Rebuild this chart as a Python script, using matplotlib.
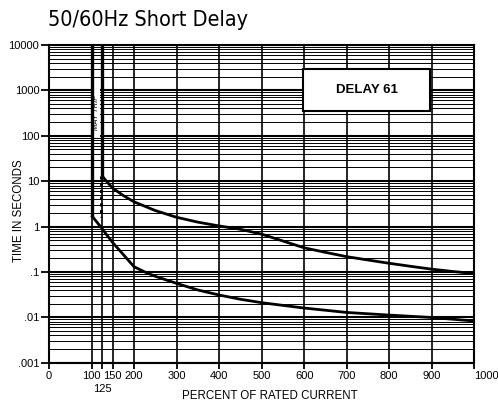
import numpy as np
import matplotlib
matplotlib.use("Agg")
import matplotlib.pyplot as plt
from matplotlib.ticker import LogLocator, NullFormatter, FixedLocator
from matplotlib.patches import Rectangle

# trip curve data (percent of rated current vs. seconds)
upper_x = [125, 137, 150, 175, 200, 250, 300, 350, 400, 450, 500, 550, 600, 650, 700,
           750, 800, 850, 900, 950, 1000]
upper_t = [13.0, 9.5, 7.0, 4.8, 3.5, 2.25, 1.6, 1.25, 1.03, 0.87, 0.68, 0.48, 0.34, 0.27,
           0.217, 0.183, 0.155, 0.133, 0.115, 0.102, 0.092]
lower_x = [100, 125, 137, 150, 175, 200, 225, 250, 300, 350, 400, 450, 500, 600, 700,
           800, 900, 1000]
lower_t = [1.75, 0.9, 0.63, 0.44, 0.24, 0.13, 0.1, 0.08, 0.056, 0.04, 0.031, 0.025,
           0.021, 0.016, 0.0128, 0.0112, 0.0099, 0.0083]

x_ticks = [0, 100, 150, 200, 300, 400, 500, 600, 700, 800, 900, 1000]
x_labels = ["0", "100", "150", "200", "300", "400", "500", "600", "700", "800", "900", "1000"]
y_ticks = [1e-3, 1e-2, 1e-1, 1, 10, 100, 1000, 10000]
y_labels = [".001", ".01", ".1", "1", "10", "100", "1000", "10000"]

plt.rcParams['font.family'] = ['Liberation Sans', 'DejaVu Sans']

fig = plt.figure(figsize=(4.98, 4.05), dpi=100)
ax = fig.add_axes([49 / 498, 1 - 362.7 / 405, (474.3 - 49) / 498, (362.7 - 45) / 405])

ax.set_yscale('log')
ax.set_xlim(0, 1000)
ax.set_ylim(1e-3, 1e4)

# log paper grid
ax.yaxis.set_major_locator(FixedLocator(y_ticks))
ax.yaxis.set_minor_locator(LogLocator(base=10, subs=np.arange(2, 10)))
ax.yaxis.set_minor_formatter(NullFormatter())
ax.set_yticklabels(y_labels, fontsize=8)
ax.grid(which='major', axis='y', color='black', lw=1.5)
ax.grid(which='minor', axis='y', color='black', lw=0.7)
ax.tick_params(axis='y', which='minor', length=0)
ax.tick_params(axis='y', which='major', length=6, width=1.3, pad=1)

ax.set_xticks(x_ticks)
xl = ax.set_xticklabels(x_labels, fontsize=8)
xl[-1].set_horizontalalignment('left')
# 125 sits on a second row under the others
ax.set_xticks([125], minor=True)
ax.set_xticklabels(["125"], minor=True, fontsize=8)
ax.grid(which='both', axis='x', color='black', lw=1.2)
ax.tick_params(axis='x', which='major', length=4, width=1.3, pad=2)
ax.tick_params(axis='x', which='minor', length=4, width=1.3, pad=11)

for s in ax.spines.values():
    s.set_linewidth(1.5)

# blank strip for the "may trip" note, over the grid
ax.add_patch(Rectangle((103, 95), 18, 1100 - 95, fc='white', ec='none', zorder=2.8))
ax.text(112.5, 330, "MAY TRIP", rotation=90, fontsize=5.5, style='italic',
        ha='center', va='center', zorder=5)

# heavy pickup lines
ax.plot([100, 100], [1e4, lower_t[0]], color='black', lw=2.4, zorder=3)
ax.plot([125, 125], [1e4, upper_t[0]], color='black', lw=2.4, zorder=3)
ax.plot([122, 122], [upper_t[0], 1.6], color='black', lw=2.2,
        linestyle=(0, (1, 1.2)), zorder=3)

ax.plot(upper_x, upper_t, color='black', lw=2.0, zorder=4,
        solid_joinstyle='round', solid_capstyle='butt')
ax.plot(lower_x, lower_t, color='black', lw=2.0, zorder=4,
        solid_joinstyle='round', solid_capstyle='butt')

ax.add_patch(Rectangle((597, 353), 300, 2950 - 353, fc='white', ec='black', lw=1.5, zorder=6))
ax.text(747, 1020, "DELAY 61", fontsize=9.5, fontweight='bold', ha='center', va='center',
        zorder=7)

fig.text(270 / 498, 1 - 396 / 405, "PERCENT OF RATED CURRENT", fontsize=8.3,
         ha='center', va='center')
fig.text(19 / 498, 1 - 211 / 405, "TIME IN SECONDS", fontsize=8.3, rotation=90,
         ha='center', va='center')

fig.text(48 / 498, 1 - 20 / 405, "50/60Hz Short Delay", fontsize=15.5, va='center', ha='left',
         family=['Liberation Sans Narrow', 'DejaVu Sans'], stretch='condensed')

fig.savefig("out.png", dpi=100)
